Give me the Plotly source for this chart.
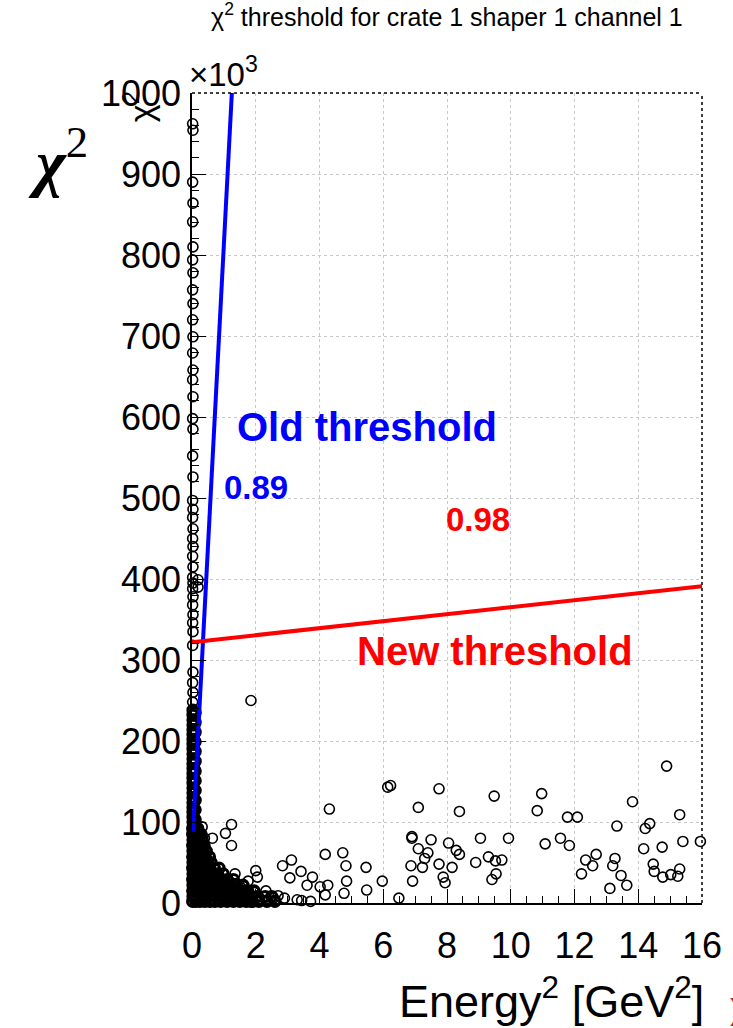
import plotly.graph_objects as go

# ---------------- data (chi2 in units of 10^3) ----------------
# dense cluster near origin
blob_e2 = [0.03]*24 + [0.10]*12 + \
    [0.02, 0.10, 0.18,
     0.02, 0.10, 0.20, 0.28,
     0.03, 0.12, 0.22, 0.32,
     0.02, 0.10, 0.20, 0.30, 0.38,
     0.03, 0.12, 0.22, 0.33, 0.45,
     0.02, 0.10, 0.20, 0.30, 0.42, 0.55,
     0.03, 0.12, 0.22, 0.34, 0.46, 0.60,
     0.02, 0.10, 0.20, 0.30, 0.42, 0.55, 0.70, 0.85,
     0.03, 0.12, 0.24, 0.36, 0.50, 0.64, 0.80, 0.98,
     0.02, 0.10, 0.20, 0.32, 0.45, 0.60, 0.75, 0.92, 1.10, 1.30,
     0.03, 0.14, 0.26, 0.40, 0.55, 0.70, 0.86, 1.02, 1.20, 1.40, 1.60,
     0.02, 0.12, 0.24, 0.38, 0.52, 0.68, 0.84, 1.00, 1.18, 1.36, 1.55, 1.75, 1.95,
     0.03, 0.14, 0.28, 0.42, 0.58, 0.74, 0.90, 1.08, 1.26, 1.45, 1.65, 1.85, 2.05, 2.30, 2.50,
     0.02, 0.12, 0.25, 0.40, 0.56, 0.72, 0.90, 1.10, 1.30, 1.50, 1.70, 1.90, 2.10, 2.35, 2.60]
blob_chi2 = [238, 232, 226, 220, 214, 208, 202, 196, 190, 184, 178, 172,
             166, 160, 154, 148, 142, 136, 130, 124, 118, 112, 106, 100] + \
    [235, 223, 211, 199, 187, 175, 163, 151, 139, 127, 115, 103] + \
    [92]*3 + [85]*4 + [78]*4 + [71]*5 + [64]*5 + [57]*6 + [50]*6 + \
    [43]*8 + [36]*8 + [29]*10 + [22]*11 + [15]*13 + [8]*15 + [2]*15

# points sitting along the chi2 axis
axis_e2 = [0.02, 0.03, 0.02, 0.03, 0.02, 0.03, 0.02, 0.03, 0.02, 0.03,
           0.02, 0.03, 0.02, 0.03, 0.02, 0.03, 0.02, 0.03, 0.02, 0.03,
           0.02, 0.03, 0.02, 0.03, 0.02, 0.03, 0.02, 0.03, 0.02, 0.03,
           0.02, 0.03, 0.02, 0.03, 0.02, 0.03, 0.02, 0.03, 0.02, 0.03,
           0.02, 0.19, 0.19, 1.85]
axis_chi2 = [962, 954, 890, 864, 841, 810, 794, 778, 757, 740,
             720, 699, 679, 658, 646, 625, 598, 585, 552, 526,
             497, 486, 476, 462, 450, 440, 428, 415, 402, 395,
             388, 378, 368, 356, 346, 335, 318, 285, 272, 260,
             248, 399, 390, 250]

# scattered points at larger energy
scat_e2 = [14.89, 6.14, 6.23, 7.75, 9.48, 10.97, 13.82, 4.31, 7.10, 8.39,
           10.83, 11.78, 12.09, 15.30, 1.24, 1.05, 13.33, 14.36, 14.22, 0.64,
           1.24, 6.90, 6.90, 7.50, 9.05, 9.93, 11.08, 11.56, 11.84, 15.40,
           15.95, 14.75, 14.17, 7.10, 7.40, 7.30, 8.05, 8.29, 8.39, 9.30,
           9.52, 9.72, 8.90, 7.75, 8.16, 7.23, 6.87, 12.68, 12.35, 12.57,
           12.22, 13.27, 13.20, 13.46, 13.64, 13.11, 14.47, 14.50, 14.77, 15.02,
           15.24, 15.30, 4.18, 4.73, 4.83, 5.46, 4.85, 4.77, 5.48, 5.97,
           6.49, 6.92, 7.88, 7.94, 9.41, 9.54, 2.84, 3.12, 3.07, 3.42,
           3.78, 3.61, 4.02, 4.26, 4.18, 3.44, 3.72, 2.00, 2.05, 1.76,
           1.62, 1.95, 2.32, 1.85, 2.56, 1.35, 1.13, 0.80, 0.53, 0.42,
           0.39, 0.32, 2.90, 3.30, 2.70]
scat_chi2 = [169, 143, 145, 141, 132, 135, 125, 116, 118, 113,
             114, 106, 106, 109, 97, 86, 95, 98, 92, 80,
             71, 82, 80, 78, 80, 80, 73, 80, 71, 76,
             76, 69, 67, 67, 62, 55, 74, 65, 60, 57,
             52, 53, 50, 48, 44, 44, 46, 60, 53, 46,
             36, 55, 46, 34, 22, 18, 48, 39, 32, 35,
             33, 42, 60, 62, 46, 44, 27, 12, 16, 27,
             6, 27, 32, 25, 29, 36, 46, 53, 31, 39,
             32, 22, 20, 22, 10, 3, 2, 40, 32, 27,
             20, 13, 15, 1, 6, 36, 29, 33, 41, 65,
             80, 94, 6, 4, 9]

old_thr_e2 = [0.03, 1.25]
old_thr_chi2 = [88, 1000]
new_thr_e2 = [0.0, 16.0]
new_thr_chi2 = [322, 391]

x_ticks = [0, 2, 4, 6, 8, 10, 12, 14, 16]
y_ticks = [0, 100, 200, 300, 400, 500, 600, 700, 800, 900, 1000]

FONT = "Liberation Sans, Arial, sans-serif"

fig = go.Figure()
marker = dict(symbol="circle-open", size=10, color="black", line=dict(width=1.6, color="black"))
blob_marker = dict(symbol="circle-open", size=10, color="black", line=dict(width=3.2, color="black"))
fig.add_trace(go.Scatter(x=blob_e2, y=blob_chi2, mode="markers", marker=blob_marker,
                         cliponaxis=False, showlegend=False, hoverinfo="skip"))
fig.add_trace(go.Scatter(x=axis_e2 + scat_e2, y=axis_chi2 + scat_chi2, mode="markers", marker=marker,
                         cliponaxis=False, showlegend=False, hoverinfo="skip"))
fig.add_trace(go.Scatter(x=old_thr_e2, y=old_thr_chi2, mode="lines",
                         line=dict(color="#0000ff", width=4), showlegend=False))
fig.add_trace(go.Scatter(x=new_thr_e2, y=new_thr_chi2, mode="lines",
                         line=dict(color="#ff0000", width=4), showlegend=False))

fig.update_xaxes(range=[0, 16], tickvals=x_ticks, ticktext=[str(v) for v in x_ticks],
                 showline=True, linecolor="black", linewidth=1.5,
                 ticks="inside", ticklen=14, tickcolor="black", tickwidth=1.2,
                 minor=dict(dtick=0.5, ticks="inside", ticklen=7, tickcolor="black", showgrid=False),
                 showgrid=True, gridcolor="#c8c8c8", griddash="dot", gridwidth=1,
                 tickfont=dict(family=FONT, size=36, color="black"), zeroline=False,
                 ticklabelstandoff=10)
fig.update_yaxes(range=[0, 1000], tickvals=y_ticks, ticktext=[str(v) for v in y_ticks],
                 showline=True, linecolor="black", linewidth=1.5,
                 ticks="inside", ticklen=14, tickcolor="black", tickwidth=1.2,
                 minor=dict(dtick=20, ticks="inside", ticklen=7, tickcolor="black", showgrid=False),
                 showgrid=True, gridcolor="#c8c8c8", griddash="dot", gridwidth=1,
                 tickfont=dict(family=FONT, size=36, color="black"), zeroline=False,
                 ticklabelstandoff=2)

# dotted frame on top/right
fig.add_shape(type="line", xref="paper", yref="paper", x0=0, x1=1, y0=1, y1=1,
              line=dict(color="black", width=1.5, dash="dot"))
fig.add_shape(type="line", xref="paper", yref="paper", x0=1, x1=1, y0=0, y1=1,
              line=dict(color="black", width=1.5, dash="dot"))

ann = []
ann.append(dict(text="χ<sup>2</sup> threshold for crate 1 shaper 1 channel 1",
                xref="paper", yref="paper", x=0.50, y=1.096, xanchor="center", yanchor="middle",
                showarrow=False, font=dict(family=FONT, size=25, color="black")))
ann.append(dict(text="×10<sup>3</sup>", xref="paper", yref="paper", x=-0.01, y=0.998,
                xanchor="left", yanchor="bottom", showarrow=False,
                font=dict(family=FONT, size=33, color="black")))
ann.append(dict(text="χ<sup>2</sup>", xref="paper", yref="paper", x=-0.105, y=0.983,
                xanchor="center", yanchor="middle", textangle=-90, showarrow=False,
                font=dict(family=FONT, size=34, color="black")))
ann.append(dict(text="<b><i>χ</i></b><sup>2</sup>", xref="paper", yref="paper", x=-0.262, y=0.92,
                xanchor="center", yanchor="middle", showarrow=False,
                font=dict(family="Liberation Serif, serif", size=64, color="black")))
ann.append(dict(text="Energy<sup>2</sup> [GeV<sup>2</sup>]", xref="paper", yref="paper",
                x=1.008, y=-0.117, xanchor="right", yanchor="middle", showarrow=False,
                font=dict(family=FONT, size=45, color="black")))
ann.append(dict(text="<b>Old threshold</b>", x=5.49, y=588, xanchor="center", yanchor="middle",
                showarrow=False, font=dict(family=FONT, size=40, color="#0000ff")))
ann.append(dict(text="<b>0.89</b>", x=2.0, y=513, xanchor="center", yanchor="middle",
                showarrow=False, font=dict(family=FONT, size=33, color="#0000ff")))
ann.append(dict(text="<b>0.98</b>", x=8.97, y=473, xanchor="center", yanchor="middle",
                showarrow=False, font=dict(family=FONT, size=33, color="#ff0000")))
ann.append(dict(text="<b>New threshold</b>", x=9.5, y=311, xanchor="center", yanchor="middle",
                showarrow=False, font=dict(family=FONT, size=40, color="#ff0000")))
ann.append(dict(text=")", xref="paper", yref="paper", x=1.05, y=-0.132, xanchor="left",
                yanchor="middle", showarrow=False,
                font=dict(family=FONT, size=30, color="#b02020")))

fig.update_layout(width=733, height=1028, autosize=False,
                  margin=dict(l=192, r=31, t=93, b=125),
                  paper_bgcolor="white", plot_bgcolor="white",
                  annotations=ann, showlegend=False)

fig.write_html("out.html")
